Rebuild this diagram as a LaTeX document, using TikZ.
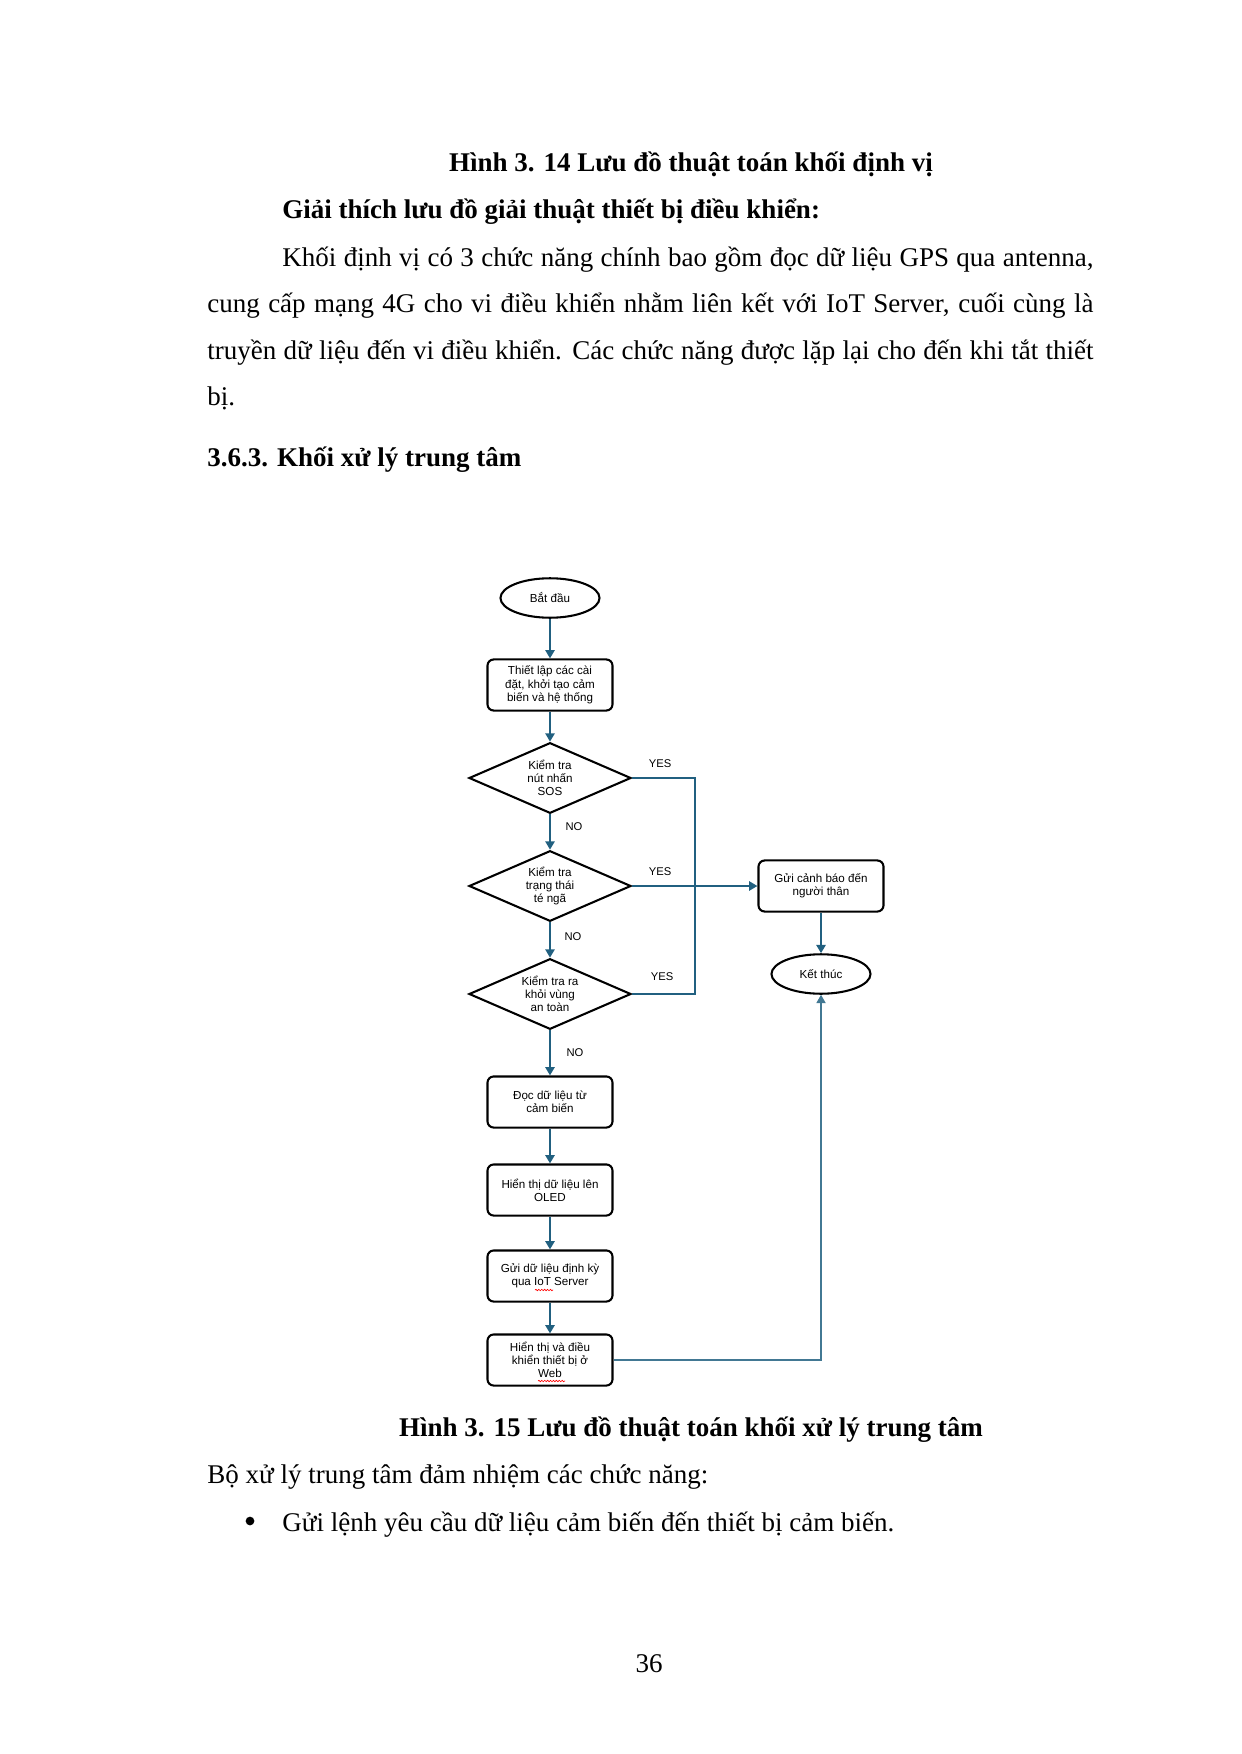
\documentclass[tikz,border=0pt]{standalone}
\usepackage{fontspec}
\setmainfont{Liberation Serif}
\newfontfamily\chartfont{Liberation Sans}
\usetikzlibrary{shapes.geometric,arrows.meta,decorations.pathmorphing}
\definecolor{flowBlue}{RGB}{33,96,128}

\begin{document}
\begin{tikzpicture}[x=0.48147pt,y=-0.48147pt,>={Triangle[length=4pt,width=4.4pt]},
    chart/.style={font=\chartfont\fontsize{5.6}{6.4}\selectfont,align=center},
    startstop/.style={chart,draw,line width=1pt,ellipse,minimum width=47.7pt,minimum height=19pt,inner sep=0pt},
    procbox/.style={chart,draw,line width=1pt,rounded corners=3pt,minimum width=60.2pt,minimum height=24.6pt,inner sep=1pt},
    decide/.style={chart,draw,line width=1pt,diamond,aspect=2.3,minimum width=78pt,minimum height=34pt,inner sep=0pt},
    flow/.style={->,flowBlue,line width=1.2pt},
    ans/.style={font=\chartfont\fontsize{5.4}{6}\selectfont},
    body/.style={font=\fontsize{13}{22.3}\selectfont,anchor=base west,inner sep=0pt},
    squiggle/.style={red,line width=0.3pt,decorate,decoration={snake,amplitude=0.35pt,segment length=1.4pt}}]
  \useasboundingbox[fill=white] (0,0) rectangle (1241,1754);

  % text above the chart
  \node[body,anchor=base] (capA) at (691,172) {\bfseries Hình 3. 14 Lưu đồ thuật toán khối định vị};
  \node[body] (explain) at (282,219) {\bfseries Giải thích lưu đồ giải thuật thiết bị điều khiển:};
  \node[body] (paraA) at (282,266.7) {\makebox[390.5pt][s]{Khối định vị có 3 chức năng chính bao gồm đọc dữ liệu GPS qua antenna,}};
  \node[body] (paraB) at (207,313) {\makebox[426.6pt][s]{cung cấp mạng 4G cho vi điều khiển nhằm liên kết với IoT Server, cuối cùng là}};
  \node[body] (paraC) at (207,359.3) {\makebox[426.6pt][s]{truyền dữ liệu đến vi điều khiển. Các chức năng được lặp lại cho đến khi tắt thiết}};
  \node[body] (paraD) at (207,405.6) {bị.};
  \node[body] (section) at (207,466.7) {\bfseries 3.6.3. Khối xử lý trung tâm};

  % flowchart
  \node[startstop] (begin) at (550,598) {Bắt đầu};
  \node[procbox] (setup) at (550,685) {Thiết lập các cài\\đặt, khởi tạo cảm\\biến và hệ thống};
  \node[decide] (sos) at (550,778) {Kiểm tra\\nút nhấn\\SOS};
  \node[decide] (fall) at (550,886) {Kiểm tra\\trạng thái\\té ngã};
  \node[decide] (zone) at (550,994) {Kiểm tra ra\\khỏi vùng\\an toàn};
  \node[procbox] (alert) at (821,886) {Gửi cảnh báo đến\\người thân};
  \node[startstop] (finish) at (821,974) {Kết thúc};
  \node[procbox] (read) at (550,1102) {Đọc dữ liệu từ\\cảm biến};
  \node[procbox] (oled) at (550,1190) {Hiển thị dữ liệu lên\\OLED};
  \node[procbox] (send) at (550,1276) {Gửi dữ liệu định kỳ\\qua IoT Server};
  \node[procbox] (web) at (550,1360) {Hiển thị và điều\\khiển thiết bị ở\\Web};

  \node[ans] (yesA) at (660,764) {YES};
  \node[ans] (yesB) at (660,872) {YES};
  \node[ans] (yesC) at (662,977) {YES};
  \node[ans] (noA) at (574,827) {NO};
  \node[ans] (noB) at (573,937) {NO};
  \node[ans] (noC) at (575,1053) {NO};

  \draw[flow] (begin) -- (setup);
  \draw[flow] (setup) -- (sos);
  \draw[flow] (sos) -- (fall);
  \draw[flow] (fall) -- (zone);
  \draw[flow] (zone) -- (read);
  \draw[flow] (read) -- (oled);
  \draw[flow] (oled) -- (send);
  \draw[flow] (send) -- (web);
  \draw[flow] (fall) -- (alert);
  \draw[flow] (alert) -- (finish);
  \coordinate (busTop) at (695,778);
  \coordinate (busBot) at (695,994);
  \draw[flow,-] (sos.east) -- (busTop) -- (busBot) -- (zone.east);
  \draw[->,flowBlue!85,line width=0.6pt] (web.east) -- (web.east -| finish) -- (finish.south);

  % spelling marks
  \draw[squiggle] (535,1290) -- (553,1290);
  \draw[squiggle] (538,1381) -- (565,1381);

  % text below the chart
  \node[body,anchor=base] (capB) at (691,1436) {\bfseries Hình 3. 15 Lưu đồ thuật toán khối xử lý trung tâm};
  \node[body] (duty) at (207,1483.3) {Bộ xử lý trung tâm đảm nhiệm các chức năng:};
  \node[circle,fill,inner sep=0pt,minimum size=4.2pt] (dot) at (250,1521) {};
  \node[body] (itemA) at (282,1531) {Gửi lệnh yêu cầu dữ liệu cảm biến đến thiết bị cảm biến.};
  \node[body,anchor=base] (pageno) at (649,1672.7) {36};
\end{tikzpicture}
\end{document}
